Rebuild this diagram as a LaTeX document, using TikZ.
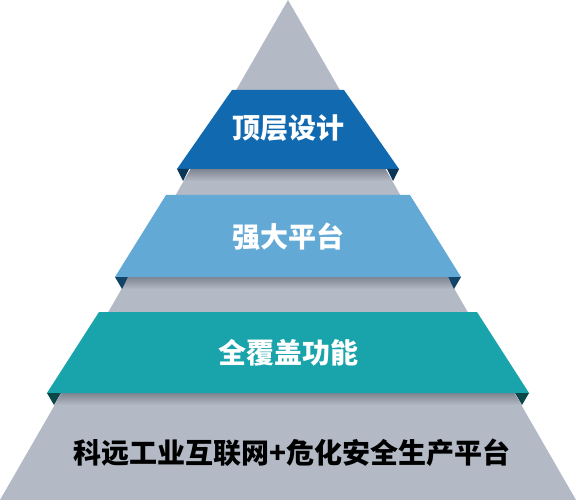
\documentclass[tikz,border=0pt]{standalone}
\usepackage{fontspec}
\newfontfamily\cjk{Noto Sans CJK SC}
\definecolor{pyrgray}{HTML}{B3BAC6}
\definecolor{shadegray}{HTML}{7E8490}
\definecolor{bandA}{HTML}{1169B0}
\definecolor{bandB}{HTML}{62A9D6}
\definecolor{bandC}{HTML}{19A3AA}
\definecolor{foldA}{HTML}{0C3658}
\definecolor{foldB}{HTML}{114466}
\definecolor{foldC}{HTML}{0B4649}
\tikzset{
  x=1pt, y=-1pt,
  lbl/.style={font=\cjk\bfseries\fontsize{28}{28}\selectfont, text=white, inner sep=0pt},
  basetxt/.style={font=\cjk\bfseries\fontsize{28}{28}\selectfont, text=black, inner sep=0pt},
}
\begin{document}
\begin{tikzpicture}
\useasboundingbox (0,0) rectangle (576,500);
\fill[white] (0,0) rectangle (576,500);
% pyramid
\fill[pyrgray] (288,0) -- (0,500) -- (576,500) -- cycle;
% shadows under bands
\begin{scope}
  \clip (288,0) -- (0,500) -- (576,500) -- cycle;
  \shade[top color=shadegray, bottom color=pyrgray] (0,169) rectangle (576,181);
  \shade[top color=shadegray, bottom color=pyrgray] (0,277) rectangle (576,289);
  \shade[top color=shadegray, bottom color=pyrgray] (0,393) rectangle (576,405);
\end{scope}
% bands
\fill[bandA] (232,90) -- (344,90) -- (399,169) -- (177,169) -- cycle;
\fill[bandB] (166,195) -- (410,195) -- (461,277) -- (115,277) -- cycle;
\fill[bandC] (99,312) -- (477,312) -- (529,393) -- (47,393) -- cycle;
% folds
\fill[foldA] (177,169) -- (189,169) -- (183,181) -- cycle;
\fill[foldA] (387,169) -- (399,169) -- (393,181) -- cycle;
\fill[foldB] (115,277) -- (128,277) -- (122,289) -- cycle;
\fill[foldB] (448,277) -- (461,277) -- (454,289) -- cycle;
\fill[foldC] (47,393) -- (61,393) -- (54,405) -- cycle;
\fill[foldC] (515,393) -- (529,393) -- (522,405) -- cycle;
% labels
\node[lbl] (top) at (288,128) {顶层设计};
\node[lbl] (mid) at (288,237) {强大平台};
\node[lbl] (low) at (288,353) {全覆盖功能};
\node[basetxt] (base) at (292,453) {科远工业互联网+危化安全生产平台};
\end{tikzpicture}
\end{document}
